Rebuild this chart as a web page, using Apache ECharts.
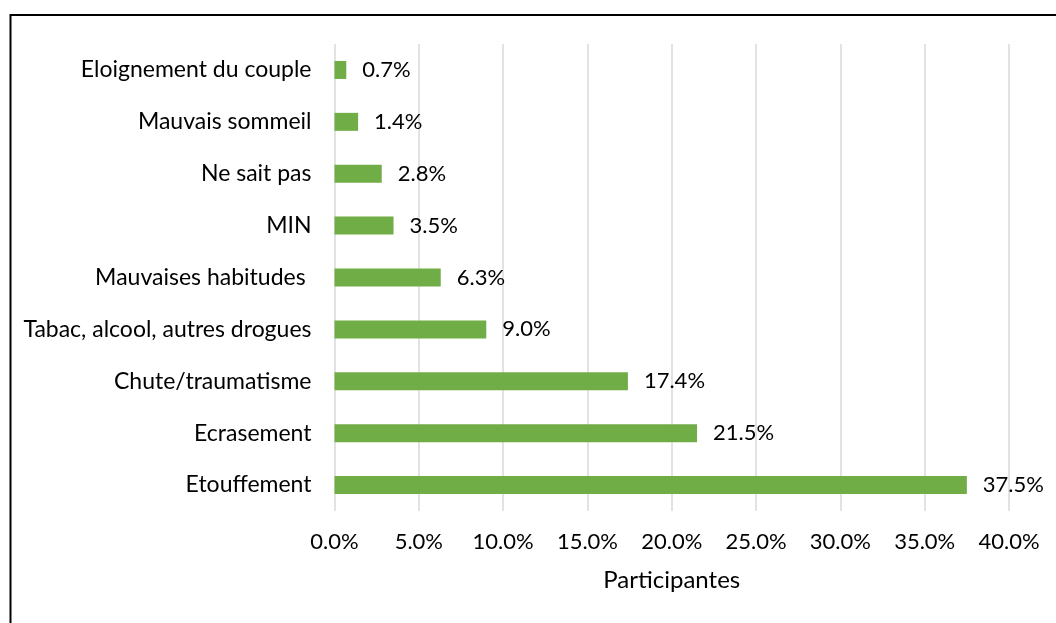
<!DOCTYPE html>
<html>
<head>
<meta charset="utf-8">
<script src="https://cdn.jsdelivr.net/npm/echarts@6/dist/echarts.min.js"></script>
<style>
html,body{margin:0;padding:0;background:#fff;}
#chart{width:1056px;height:623px;}
</style>
</head>
<body>
<div id="chart"></div>
<script>
const categories = ["Eloignement du couple","Mauvais sommeil","Ne sait pas","MIN","Mauvaises habitudes ","Tabac, alcool, autres drogues","Chute/traumatisme","Ecrasement","Etouffement"];
const values = [0.7,1.4,2.8,3.5,6.3,9.0,17.4,21.5,37.5];
const xTicks = {min:0,max:40,interval:5};
const axisTitle = "Participantes";

const FONT = 'Lato';
const chart = echarts.init(document.getElementById('chart'));
chart.setOption({
  animation:false,
  backgroundColor:'#fff',
  graphic:[{type:'rect',shape:{x:10.5,y:15,width:1200,height:800},style:{fill:'none',stroke:'#000',lineWidth:2},silent:true}],
  grid:{left:334.5,right:47,top:44,bottom:112,containLabel:false},
  xAxis:{type:'value',min:xTicks.min,max:xTicks.max,interval:xTicks.interval,
    axisLine:{show:false},axisTick:{show:false},
    splitLine:{show:true,lineStyle:{color:'#d9d9d9',width:1.5}},
    axisLabel:{formatter:v=>v.toFixed(1)+'%',color:'#000',fontFamily:FONT,fontSize:22,margin:20},
    name:axisTitle,nameLocation:'middle',nameGap:57,
    nameTextStyle:{color:'#000',fontFamily:FONT,fontSize:24}
  },
  yAxis:{type:'category',data:categories,inverse:true,
    axisLine:{show:false},axisTick:{show:false},
    axisLabel:{color:'#000',fontFamily:FONT,fontSize:23,margin:23}
  },
  series:[{type:'bar',data:values,barWidth:18,itemStyle:{color:'#70AD47'},
    label:{show:true,position:'right',distance:16,formatter:p=>p.value.toFixed(1)+'%',color:'#000',fontFamily:FONT,fontSize:22}
  }]
});
</script>
</body>
</html>
